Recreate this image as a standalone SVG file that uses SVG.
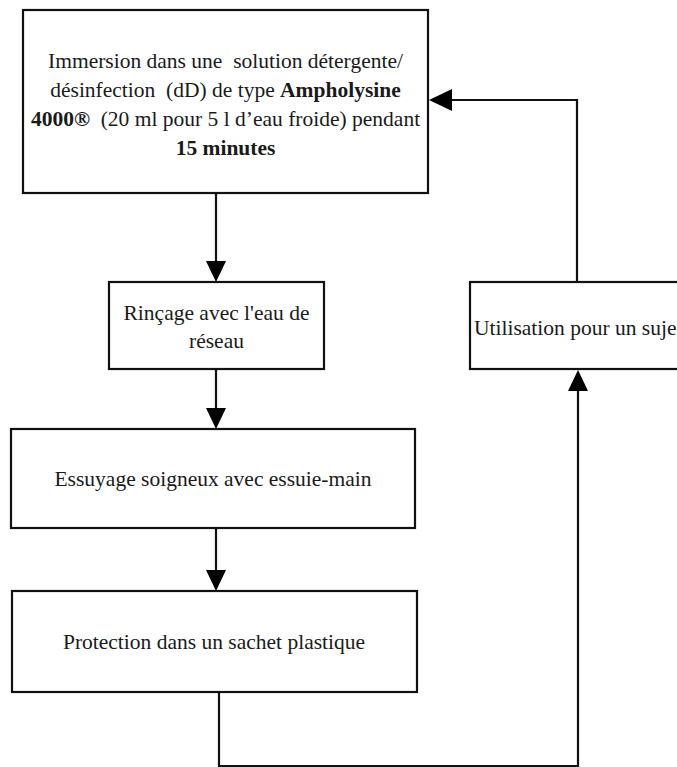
<svg xmlns="http://www.w3.org/2000/svg" width="677" height="767" viewBox="0 0 677 767">
<style>
.box{fill:#fff;stroke:#111;stroke-width:2.2}
.t{font-family:"Liberation Serif","Times New Roman",serif;font-size:21.5px;fill:#1a1a1a;white-space:pre}
.b{font-weight:bold}
.c{text-anchor:middle}
.ln{fill:none;stroke:#111;stroke-width:2.2}
.ah{fill:#000}
</style>
<rect width="677" height="767" fill="#fff"/>
<g id="connectors">
<line class="ln" x1="216" y1="193" x2="216" y2="262"/>
<polygon class="ah" points="206,261 226,261 216,282"/>
<line class="ln" x1="216" y1="369" x2="216" y2="409"/>
<polygon class="ah" points="206,408 226,408 216,429"/>
<line class="ln" x1="216" y1="528" x2="216" y2="571"/>
<polygon class="ah" points="206,570 226,570 216,591"/>
<polyline class="ln" points="219,692 219,766 578,766 578,390"/>
<polygon class="ah" points="568,391 588,391 578,370"/>
<polyline class="ln" points="577,282 577,100 450,100"/>
<polygon class="ah" points="452,89 452,111 429,100"/>
</g>
<g id="n1">
<rect class="box" x="23" y="10" width="405" height="183"/>
<text class="t c" x="225.5" y="68">Immersion dans une  solution détergente/</text>
<text class="t c" x="225.5" y="97">désinfection  (dD) de type <tspan class="b">Ampholysine</tspan></text>
<text class="t c" x="225.5" y="126"><tspan class="b">4000®</tspan>  (20 ml pour 5 l d’eau froide) pendant</text>
<text class="t c b" x="225.5" y="155">15 minutes</text>
</g>
<g id="n2">
<rect class="box" x="109" y="282" width="215" height="87"/>
<text class="t c" x="216.5" y="320">Rinçage avec l'eau de</text>
<text class="t c" x="216.5" y="348">réseau</text>
</g>
<g id="n3">
<rect class="box" x="11" y="429" width="404" height="99"/>
<text class="t c" x="213" y="486">Essuyage soigneux avec essuie-main</text>
</g>
<g id="n4">
<rect class="box" x="12" y="591" width="405" height="101"/>
<text class="t c" x="214" y="649">Protection dans un sachet plastique</text>
</g>
<g id="n5">
<rect class="box" x="470" y="282" width="240" height="87"/>
<text class="t" x="474" y="335">Utilisation pour un suje</text>
</g>
</svg>
